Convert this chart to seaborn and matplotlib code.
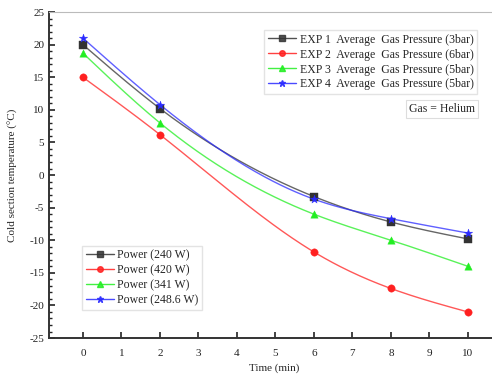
import numpy as np
import pandas as pd
import matplotlib
matplotlib.use("Agg")
import matplotlib.pyplot as plt
import seaborn as sns
from matplotlib.lines import Line2D

# data
time_min = [0, 2, 6, 8, 10]
exp1_temp = [20.0, 10.2, -3.3, -7.2, -9.8]
exp2_temp = [15.0, 6.2, -11.8, -17.4, -21.0]
exp3_temp = [18.7, 8.0, -6.0, -10.0, -14.0]
exp4_temp = [21.0, 10.8, -3.7, -6.7, -8.9]

pressure_labels = ["EXP 1  Average  Gas Pressure (3bar)",
                   "EXP 2  Average  Gas Pressure (6bar)",
                   "EXP 3  Average  Gas Pressure (5bar)",
                   "EXP 4  Average  Gas Pressure (5bar)"]
power_labels = ["Power (240 W)", "Power (420 W)", "Power (341 W)", "Power (248.6 W)"]

colors = ["#333333", "#ff2020", "#22ee22", "#2a2aff"]
markers = ["s", "o", "^", "*"]


def natural_spline(x, y, n=200):
    """Smooth curve through the points (natural cubic spline)."""
    x = np.asarray(x, float)
    y = np.asarray(y, float)
    k = len(x)
    h = np.diff(x)
    A = np.zeros((k, k))
    b = np.zeros(k)
    A[0, 0] = A[-1, -1] = 1
    for i in range(1, k - 1):
        A[i, i - 1] = h[i - 1]
        A[i, i] = 2 * (h[i - 1] + h[i])
        A[i, i + 1] = h[i]
        b[i] = 6 * ((y[i + 1] - y[i]) / h[i] - (y[i] - y[i - 1]) / h[i - 1])
    m = np.linalg.solve(A, b)
    xs = np.linspace(x[0], x[-1], n)
    idx = np.clip(np.searchsorted(x, xs) - 1, 0, k - 2)
    x0, x1 = x[idx], x[idx + 1]
    hh = x1 - x0
    t0, t1 = x1 - xs, xs - x0
    ys = (m[idx] * t0 ** 3 + m[idx + 1] * t1 ** 3) / (6 * hh) \
        + (y[idx] / hh - m[idx] * hh / 6) * t0 \
        + (y[idx + 1] / hh - m[idx + 1] * hh / 6) * t1
    return xs, ys


sns.set_style("ticks")
plt.rcParams['font.family'] = ['Liberation Serif', 'DejaVu Serif']
plt.rcParams['axes.unicode_minus'] = False

fig = plt.figure(figsize=(4.92, 3.76), dpi=100)
ax = fig.add_axes([0.0996, 0.101, 0.914, 0.867])

series = [exp1_temp, exp2_temp, exp3_temp, exp4_temp]
for i, temps in enumerate(series):
    xs, ys = natural_spline(time_min, temps)
    curve = pd.DataFrame({"t": xs, "T": ys})
    sns.lineplot(data=curve, x="t", y="T", ax=ax, color=colors[i], lw=1.0,
                 alpha=0.75, legend=False)
    pts = pd.DataFrame({"t": time_min, "T": temps})
    sns.scatterplot(data=pts, x="t", y="T", ax=ax, color=colors[i],
                    marker=markers[i], s=28 if markers[i] != "*" else 40,
                    edgecolor=colors[i], linewidth=0.3, legend=False, zorder=3)

ax.set_xlim(-0.88, 10.8)
ax.set_ylim(-25, 25)
ax.set_xticks(range(0, 11))
ax.set_yticks(range(-25, 26, 5))
ax.set_yticks(range(-25, 26, 1), minor=True)
ax.tick_params(axis="both", direction="in", labelsize=8, width=1.2, length=4,
               colors="#222222")
ax.tick_params(axis="y", which="minor", direction="in", length=2.5, width=1.0)
ax.tick_params(axis="x", pad=8)
for side in ["left", "bottom"]:
    ax.spines[side].set_linewidth(1.4)
    ax.spines[side].set_color("#333333")
ax.spines["top"].set_color("#bbbbbb")
ax.spines["top"].set_linewidth(0.8)
ax.spines["right"].set_visible(False)

ax.set_xlabel("Time (min)", fontsize=8)
ax.set_ylabel("Cold section temperature (°C)", fontsize=8, labelpad=8)

handles = [Line2D([], [], color=colors[i], marker=markers[i], lw=1.0,
                  markersize=4 if markers[i] != "*" else 5, alpha=0.85)
           for i in range(4)]

fig.legend(handles, pressure_labels, loc="upper right",
           bbox_to_anchor=(0.9695, 0.92), bbox_transform=fig.transFigure,
           fontsize=8.5, frameon=True, fancybox=False, edgecolor="#dddddd",
           handlelength=2.4, handletextpad=0.3, labelspacing=0.25,
           borderpad=0.3, borderaxespad=0)
fig.legend(handles, power_labels, loc="lower left",
           bbox_to_anchor=(0.1667, 0.1755), bbox_transform=fig.transFigure,
           fontsize=8.5, frameon=True, fancybox=False, edgecolor="#dddddd",
           handlelength=2.4, handletextpad=0.3, labelspacing=0.25,
           borderpad=0.3, borderaxespad=0)

fig.text(0.965, 0.725, "Gas = Helium", ha="right", va="top", fontsize=8.5,
         bbox=dict(boxstyle="square,pad=0.25", fc="white", ec="#dddddd", lw=0.8))

fig.savefig("out.png", dpi=100)
